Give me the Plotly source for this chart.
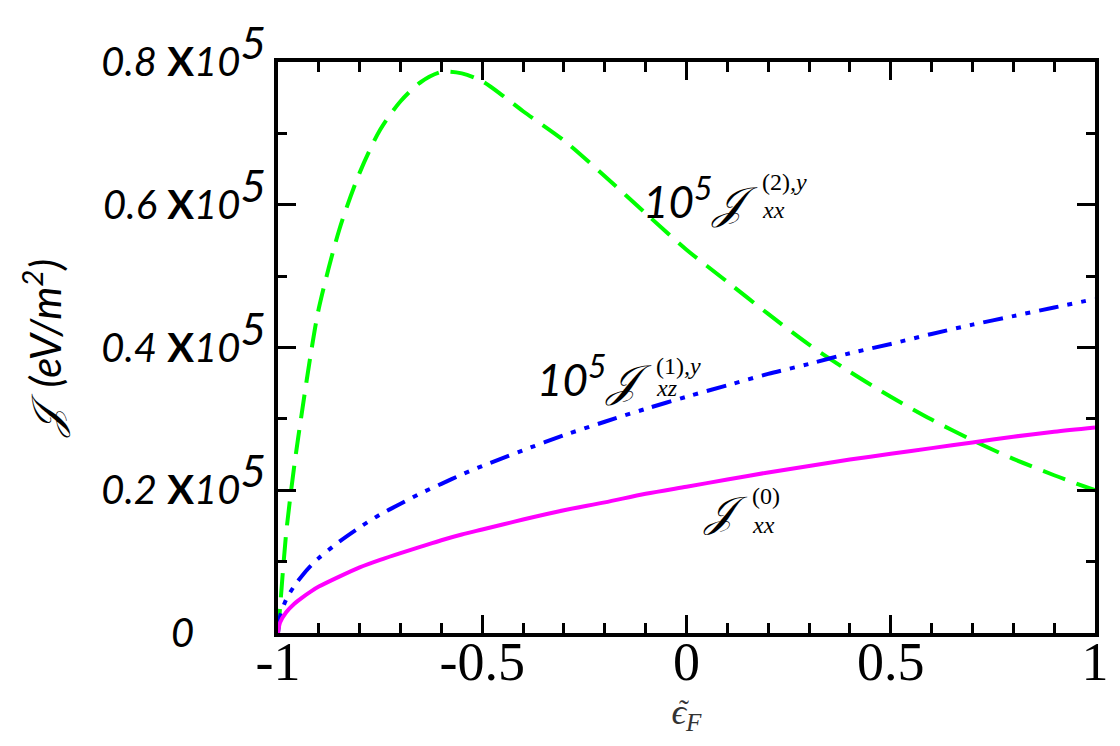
import plotly.graph_objects as go

# Data
eps_f = [-1.0, -0.995, -0.98, -0.96, -0.94, -0.92, -0.9, -0.85, -0.8, -0.75, -0.7, -0.65,
         -0.6, -0.55, -0.5, -0.45, -0.4, -0.3, -0.2, -0.1, 0.0, 0.1, 0.2, 0.3, 0.4, 0.5,
         0.6, 0.7, 0.8, 0.9, 1.0]
j0_xx = [0.0, 0.0145, 0.029, 0.041, 0.050, 0.058, 0.065, 0.079, 0.092, 0.1025, 0.112, 0.121,
         0.130, 0.138, 0.145, 0.152, 0.159, 0.172, 0.183, 0.195, 0.205, 0.215, 0.225, 0.234,
         0.243, 0.251, 0.259, 0.267, 0.275, 0.282, 0.288]
j1_xz = [0.0, 0.023, 0.047, 0.066, 0.081, 0.094, 0.105, 0.128, 0.148, 0.166, 0.181, 0.196,
         0.209, 0.222, 0.234, 0.245, 0.256, 0.277, 0.296, 0.314, 0.331, 0.347, 0.363, 0.377,
         0.392, 0.405, 0.419, 0.432, 0.444, 0.456, 0.468]
j2_xx = [0.0, 0.035, 0.14, 0.235, 0.315, 0.39, 0.455, 0.565, 0.645, 0.705, 0.745, 0.772,
         0.786, 0.784, 0.773, 0.753, 0.731, 0.690, 0.640, 0.588, 0.537, 0.492, 0.447, 0.404,
         0.366, 0.331, 0.299, 0.270, 0.244, 0.221, 0.200]

x_tickvals = [-1, -0.5, 0, 0.5, 1]
x_ticktext = ["-1", "-0.5", "0", "0.5", "1"]
y_tickvals = [0, 0.2, 0.4, 0.6, 0.8]
y_ticktext = ["<i>0</i>" + "\u00a0" * 7] + [
    "<i>%s</i> <b>X</b><i>10</i><sup><i><span style='font-size:44px'>5</span></i></sup>" % v
    for v in ["0.2", "0.4", "0.6", "0.8"]
]

SERIF = "Liberation Serif"
SANS = "Lato"

fig = go.Figure()
fig.add_trace(go.Scatter(x=eps_f, y=j2_xx, mode="lines",
                         line=dict(color="#00ff00", width=4, dash="24px,12px", shape="spline", smoothing=0.8)))
fig.add_trace(go.Scatter(x=eps_f, y=j1_xz, mode="lines",
                         line=dict(color="#0000ff", width=4, dash="20px,9px,5px,9px,5px,9px",
                                   shape="spline", smoothing=0.8)))
fig.add_trace(go.Scatter(x=eps_f, y=j0_xx, mode="lines",
                         line=dict(color="#ff00ff", width=4, shape="spline", smoothing=0.8)))

axis_common = dict(showline=True, linecolor="black", linewidth=4, mirror="ticks",
                   ticks="inside", tickcolor="black", tickwidth=3, ticklen=18,
                   showgrid=False, zeroline=False, automargin=False)

fig.update_xaxes(range=[-1, 1], tickvals=x_tickvals, ticktext=x_ticktext,
                 tickfont=dict(family=SERIF, size=54, color="black"),
                 ticklabelstandoff=-22,
                 minor=dict(dtick=0.1, ticks="inside", ticklen=10, tickwidth=3, tickcolor="black"),
                 title=dict(text="<i>ϵ</i><sub><i>F</i></sub>", font=dict(family=SERIF, size=36, color="#333"),
                            standoff=0),
                 **axis_common)
fig.update_yaxes(range=[0, 0.8], tickvals=y_tickvals, ticktext=y_ticktext,
                 tickfont=dict(family=SANS, size=40, color="black"),
                 minor=dict(dtick=0.1, ticks="inside", ticklen=9, tickwidth=3, tickcolor="black"),
                 title=dict(text="<i>𝒥  (eV/m<sup>2</sup>)</i>", font=dict(family=SANS, size=42, color="black"),
                            standoff=28),
                 **axis_common)

ann_font_num = dict(family=SANS, size=44, color="black")
ann_font_J = dict(family=SERIF, size=42, color="black")
ann_font_s = dict(family=SERIF, size=24, color="black")

def px(xp):
    return (xp - 278) / (1095 - 278)

def py(yp):
    return (633 - yp) / (633 - 62)

def label(x_px, y_px, text, font, xanchor="left"):
    fig.add_annotation(x=px(x_px), y=py(y_px), xref="paper", yref="paper", text=text, showarrow=False,
                       font=font, xanchor=xanchor, yanchor="middle")

# tilde over epsilon in the x-axis title
label(684, 709, "˜", dict(family=SERIF, size=30, color="#333"), xanchor="center")

# 10^5 J_xx^(2),y
label(760, 198, "<i>10</i><sup><i><span style='font-size:32px'>5</span></i></sup><i>𝒥</i>", ann_font_num, "right")
label(760, 182, "(2)<i>,y</i>", ann_font_s)
label(760, 210, "<i>xx</i>", ann_font_s)
# 10^5 J_xz^(1),y
label(654, 376, "<i>10</i><sup><i><span style='font-size:32px'>5</span></i></sup><i>𝒥</i>", ann_font_num, "right")
label(654, 366, "(1)<i>,y</i>", ann_font_s)
label(654, 388, "<i>xz</i>", ann_font_s)
# J_xx^(0)
label(750, 512, "<i>𝒥</i>", ann_font_J, "right")
label(750, 496, "(0)", ann_font_s)
label(750, 525, "<i>xx</i>", ann_font_s)

# the page adds an 8px body margin, so the plot area is offset to land at 278..1095 x 62..633
fig.update_layout(width=1120, height=746, margin=dict(l=270, r=33, t=54, b=121),
                  plot_bgcolor="white", paper_bgcolor="white", showlegend=False)

fig.write_html("out.html")
